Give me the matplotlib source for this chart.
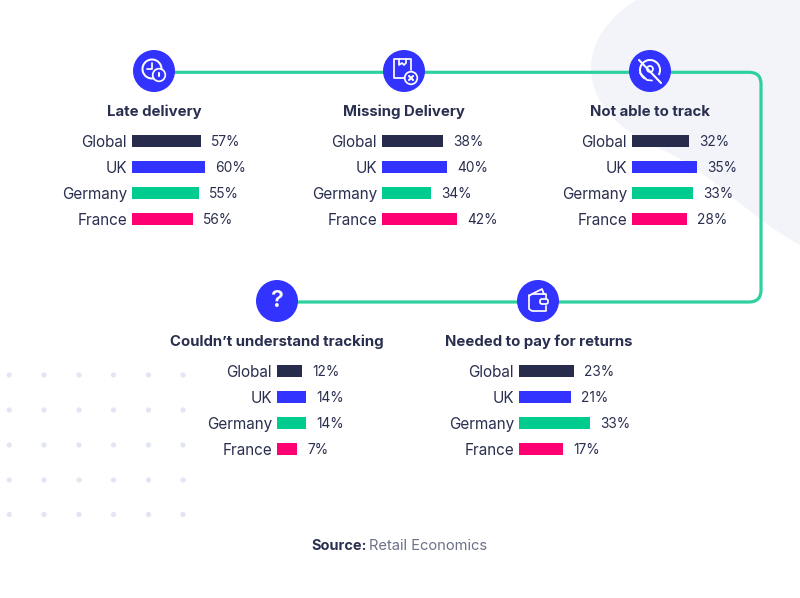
import matplotlib
matplotlib.use("Agg")
import matplotlib.pyplot as plt
from matplotlib.patches import Circle, PathPatch, Arc, FancyBboxPatch
from matplotlib.path import Path

W, H = 800, 598
FONT = "Inter"
plt.rcParams["font.family"] = [FONT, "DejaVu Sans"]

countries = ["Global", "UK", "Germany", "France"]
bar_colors = ["#272c4d", "#3333ff", "#00cc8f", "#ff0073"]

titles = ["Late delivery", "Missing Delivery", "Not able to track",
          "Couldn\u2019t understand tracking", "Needed to pay for returns"]

# printed values
late_labels = [57, 60, 55, 56]
missing_labels = [38, 40, 34, 42]
track_labels = [32, 35, 33, 28]
understand_labels = [12, 14, 14, 7]
returns_labels = [23, 21, 33, 17]

# drawn bar lengths as they appear in the picture
late_bars = [69, 73, 67, 61]
missing_bars = [61, 65, 49, 75]
track_bars = [57, 65, 61, 55]
understand_bars = [25, 29, 29, 20]
returns_bars = [55, 52, 71, 44]

all_labels = [late_labels, missing_labels, track_labels, understand_labels, returns_labels]
all_bars = [late_bars, missing_bars, track_bars, understand_bars, returns_bars]

bar_x0 = [132, 382, 632, 277, 519]
top_row = [141, 141, 141, 371, 371]
title_x = [154, 404, 650, 277, 538.5]
title_y = [112, 112, 112, 342, 342]
icon_xy = [(154, 71), (404, 71), (650, 71), (277, 301), (538, 301)]

INK = "#2a2f4f"
GREEN = "#2fd0a0"
BLUE = "#3333ff"
ROW = 26
FS_TITLE = 10.75
FS_CAT = 11.0
FS_VAL = 9.9
FS_SRC = 10.6

fig = plt.figure(figsize=(W / 100, H / 100), dpi=100, facecolor="white")
bg = fig.add_axes([0, 0, 1, 1])
bg.set_xlim(0, W)
bg.set_ylim(H, 0)
bg.axis("off")

# background blob
blob = Path(
    [(636, 0), (608, 18), (591, 42), (591, 68), (591, 100), (615, 130), (663, 150),
     (712, 172), (745, 215), (800, 245), (800, 0), (636, 0)],
    [Path.MOVETO, Path.CURVE4, Path.CURVE4, Path.CURVE4, Path.CURVE4, Path.CURVE4, Path.CURVE4,
     Path.CURVE4, Path.CURVE4, Path.CURVE4, Path.LINETO, Path.CLOSEPOLY])
bg.add_patch(PathPatch(blob, fc="#f3f4fa", ec="none", zorder=0))

# dot grid
dot_x = [9.3, 44, 79, 113.5, 148.5, 183]
dot_y = [375, 410, 445, 480, 514.5]
for dy in dot_y:
    for dx in dot_x:
        bg.add_patch(Circle((dx, dy), 2.6, fc="#e2e6f4", ec="none", zorder=1))

# connector
conn = Path(
    [(154, 72.3), (749, 72.3), (761, 72.3), (761, 84), (761, 290), (761, 302), (749, 302), (277, 302)],
    [Path.MOVETO, Path.LINETO, Path.CURVE3, Path.CURVE3, Path.LINETO, Path.CURVE3, Path.CURVE3, Path.LINETO])
bg.add_patch(PathPatch(conn, fc="none", ec=GREEN, lw=2.3, zorder=2))

# icon discs
for xy in icon_xy:
    bg.add_patch(Circle(xy, 21, fc=BLUE, ec="none", zorder=3))

LW = 1.25
def line(xs, ys, lw=LW):
    bg.plot(xs, ys, color="white", lw=lw, zorder=5, solid_capstyle="round", solid_joinstyle="round")

# clock + alert
cx, cy = icon_xy[0]
bg.add_patch(Arc((cx - 2, cy - 2), 19, 19, theta1=70, theta2=10, ec="white", lw=LW + .2, zorder=5))
line([cx - 2, cx - 2, cx - 7], [cy - 8, cy - 2, cy - 2])
bg.add_patch(Circle((cx + 5, cy + 4), 6.3, fc=BLUE, ec="white", lw=LW, zorder=5))
line([cx + 5, cx + 5], [cy + 1.5, cy + 4.5], lw=1.5)
line([cx + 5, cx + 5], [cy + 7, cy + 7.1], lw=1.5)

# box + cross
cx, cy = icon_xy[1]
line([cx + 1, cx - 10, cx - 10, cx + 7, cx + 7],
     [cy + 7, cy + 7, cy - 12, cy - 12, cy - 1])
line([cx - 5, cx - 5, cx - 2, cx, cx + 2, cx + 2], [cy - 12, cy - 6, cy - 8, cy - 6, cy - 8, cy - 12])
bg.add_patch(Circle((cx + 7, cy + 7), 6.3, fc=BLUE, ec="white", lw=LW, zorder=5))
line([cx + 5, cx + 9], [cy + 5, cy + 9], lw=1.5)
line([cx + 5, cx + 9], [cy + 9, cy + 5], lw=1.5)

# crossed-out location
cx, cy = icon_xy[2]
bg.add_patch(Arc((cx, cy - 1), 20, 20, theta1=120, theta2=30, ec="white", lw=LW + .2, zorder=5))
bg.add_patch(Circle((cx, cy - 2), 3, fc="none", ec="white", lw=LW, zorder=5))
line([cx - 10, cx - 3, cx + 2], [cy + 2, cy + 9, cy + 9.5])
line([cx - 11, cx + 11], [cy - 11, cy + 12], lw=1.5)

# question mark
cx, cy = icon_xy[3]
bg.text(cx, cy, "?", color="white", fontsize=17, fontweight="semibold", ha="center", va="center", zorder=5)

# wallet
cx, cy = icon_xy[4]
line([cx - 9, cx - 9, cx - 6, cx + 8, cx + 8], [cy - 6, cy + 8, cy + 10, cy + 10, cy + 5])
line([cx + 8, cx + 8, cx - 6, cx - 9], [cy - 3, cy - 7, cy - 7, cy - 5])
line([cx - 6, cx + 4, cx + 6], [cy - 7, cy - 12, cy - 7])
bg.add_patch(FancyBboxPatch((cx + 2, cy - 2), 8, 5, boxstyle="round,pad=0,rounding_size=2",
                            fc=BLUE, ec="white", lw=LW, zorder=6))

# panels: one horizontal bar chart per question
for title, tx, ty, x0, y0, bars, labels in zip(titles, title_x, title_y, bar_x0, top_row, all_bars, all_labels):
    bg.text(tx, ty, title, color=INK, fontsize=FS_TITLE, fontweight="bold", ha="center", va="center", zorder=6)
    top = y0 - ROW / 2
    ax = fig.add_axes([x0 / W, 1 - (top + 4 * ROW) / H, 100 / W, 4 * ROW / H])
    ax.patch.set_alpha(0)
    rects = ax.barh(range(4), bars, height=12.5 / ROW, color=bar_colors)
    ax.set_xlim(0, 100)
    ax.set_ylim(3.5, -0.5)
    ax.set_xticks([])
    ax.set_yticks(range(4), countries)
    ax.tick_params(axis="y", length=0, pad=3.6, labelsize=FS_CAT, labelcolor=INK)
    for s in ax.spines.values():
        s.set_visible(False)
    anns = ax.bar_label(rects, labels=[f"{v}%" for v in labels], padding=7.2, color=INK,
                        fontsize=FS_VAL, clip_on=False)
    for a in anns:
        a.xyann = (7.2, -0.7)

# source
bg.text(311, 546, "Source:", color=INK, fontsize=FS_SRC - 0.2, fontweight="bold", ha="left", va="center", zorder=6)
bg.text(369, 546, "Retail Economics", color="#6c7188", fontsize=FS_SRC, ha="left", va="center", zorder=6)

fig.savefig("out.png", dpi=100)
